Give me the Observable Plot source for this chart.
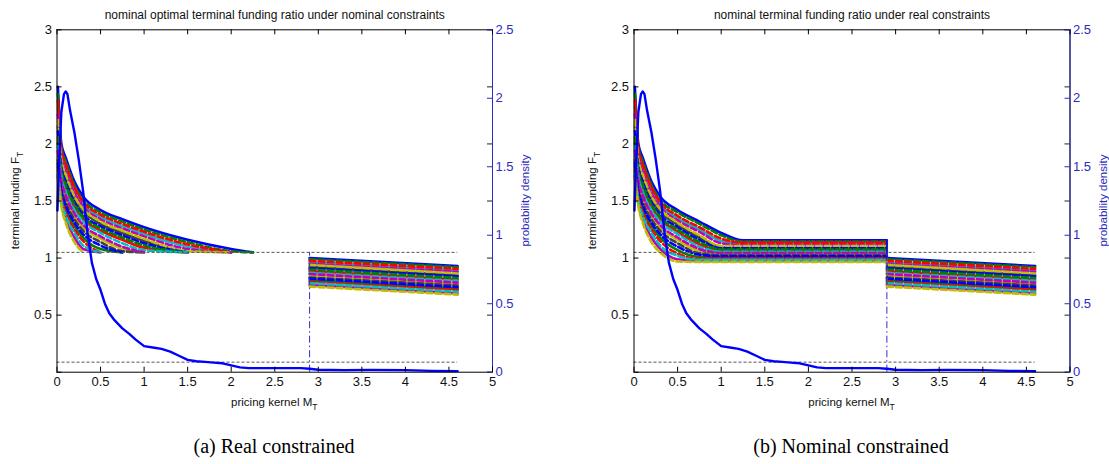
<!DOCTYPE html>
<html><head><meta charset="utf-8">
<script src="https://cdn.jsdelivr.net/npm/d3@7"></script>
<script src="https://cdn.jsdelivr.net/npm/@observablehq/plot@0.6"></script>
<style>
body{margin:0;background:#fff;width:1109px;height:464px;position:relative;overflow:hidden;font-family:"Liberation Sans",Arial,sans-serif}
.panel{position:absolute;top:0}
.cap{position:absolute;top:434px;font-family:"Liberation Serif","Times New Roman",serif;font-size:20px;transform:translateX(-50%);white-space:nowrap;line-height:24px}
</style></head><body>
<div id="pa" class="panel" style="left:0"></div>
<div id="pb" class="panel" style="left:555px"></div>
<div class="cap" style="left:274px">(a) Real constrained</div>
<div class="cap" style="left:851px">(b) Nominal constrained</div>
<script>
// ---------- data ----------
const titleA = "nominal optimal terminal funding ratio under nominal constraints";
const titleB = "nominal terminal funding ratio under real constraints";
const xLabel = ["pricing kernel M", "T"];
const yLabel = ["terminal funding F", "T"];
const y2Label = "probability density";

const xTicks = [0, 0.5, 1, 1.5, 2, 2.5, 3, 3.5, 4, 4.5, 5];
const yTicks = [0.5, 1, 1.5, 2, 2.5, 3];
const yTickMarks = [0, 0.5, 1, 1.5, 2, 2.5, 3];
const densityTicks = [0, 0.5, 1, 1.5, 2, 2.5];

const cutoffM = 2.9;       // kernel level where the constraint switches
const refEndM = 4.6;       // end of reference lines / tail
const floorLevel = 1.05;   // upper horizontal reference
const lowerLevel = 0.088;  // lower horizontal reference

// panel (a): funding ratio paths on kernel grid (end when hitting floor)
const kernelGridA = [0.01, 0.05, 0.1, 0.2, 0.3, 0.5, 0.75, 1.0, 1.5, 2.0, 2.25];
const realPaths = [
  [2.50,2.00,1.88,1.67,1.54,1.42,1.34,1.27,1.16,1.08,1.05],
  [2.44,1.97,1.85,1.64,1.51,1.40,1.32,1.25,1.14,1.06,1.05],
  [2.38,1.95,1.82,1.62,1.49,1.38,1.30,1.23,1.12,1.05],
  [2.32,1.92,1.79,1.59,1.47,1.36,1.28,1.21,1.10,1.05],
  [2.26,1.89,1.76,1.57,1.45,1.34,1.26,1.19,1.08,1.05],
  [2.21,1.86,1.73,1.54,1.43,1.32,1.24,1.17,1.06,1.05],
  [2.16,1.83,1.70,1.52,1.41,1.30,1.22,1.15,1.05],
  [2.11,1.80,1.67,1.49,1.38,1.28,1.20,1.13,1.05],
  [2.06,1.77,1.64,1.47,1.36,1.26,1.18,1.11,1.05],
  [2.02,1.74,1.61,1.44,1.34,1.24,1.16,1.09,1.05],
  [1.98,1.71,1.58,1.42,1.32,1.22,1.13,1.07,1.05],
  [1.94,1.68,1.55,1.39,1.29,1.19,1.10,1.05],
  [1.90,1.65,1.52,1.37,1.27,1.17,1.08,1.05],
  [1.86,1.62,1.49,1.34,1.24,1.14,1.06,1.05],
  [1.83,1.59,1.46,1.31,1.21,1.11,1.05],
  [1.80,1.56,1.43,1.28,1.18,1.08,1.05],
  [1.77,1.53,1.40,1.25,1.15,1.05],
  [1.74,1.50,1.37,1.22,1.11,1.05],
  [1.72,1.48,1.34,1.18,1.08,1.05],
  [1.70,1.45,1.31,1.14,1.05]
];

// panel (b): paths descend to their own plateau (last value), held until cutoff
const kernelGridB = [0.01, 0.05, 0.1, 0.2, 0.3, 0.5, 0.75, 1.0, 1.25];
const nominalPaths = [
  [2.50,2.00,1.88,1.67,1.54,1.42,1.32,1.22,1.155],
  [2.44,1.97,1.85,1.64,1.51,1.40,1.30,1.20,1.145],
  [2.38,1.95,1.82,1.62,1.49,1.37,1.27,1.17,1.135],
  [2.32,1.92,1.79,1.59,1.47,1.35,1.25,1.15,1.125],
  [2.26,1.89,1.76,1.57,1.45,1.33,1.23,1.13,1.115],
  [2.21,1.86,1.73,1.54,1.43,1.31,1.20,1.105],
  [2.16,1.83,1.70,1.52,1.41,1.29,1.18,1.095],
  [2.11,1.80,1.67,1.49,1.38,1.27,1.16,1.085],
  [2.06,1.77,1.64,1.47,1.36,1.25,1.14,1.075],
  [2.02,1.74,1.61,1.44,1.34,1.23,1.12,1.065],
  [1.98,1.71,1.58,1.42,1.32,1.21,1.10,1.055],
  [1.94,1.68,1.55,1.39,1.29,1.18,1.08,1.045],
  [1.90,1.65,1.52,1.37,1.27,1.16,1.06,1.035],
  [1.86,1.62,1.49,1.34,1.24,1.13,1.04,1.025],
  [1.83,1.59,1.46,1.31,1.21,1.10,1.03,1.015],
  [1.80,1.56,1.43,1.28,1.18,1.07,1.01,1.005],
  [1.77,1.53,1.40,1.25,1.15,1.04,0.995],
  [1.74,1.50,1.37,1.22,1.11,1.02,0.985],
  [1.72,1.48,1.34,1.18,1.08,0.99,0.975],
  [1.70,1.45,1.31,1.14,1.05,0.97,0.965]
];

// tail beyond the cutoff (same in both panels): value at cutoff and at end
const tailStart = [1.00,0.99,0.975,0.96,0.95,0.94,0.925,0.91,0.90,0.885,0.87,0.86,0.845,0.83,0.82,0.805,0.79,0.78,0.765,0.75];
const tailEnd   = [0.93,0.92,0.905,0.89,0.88,0.865,0.85,0.84,0.825,0.81,0.80,0.785,0.77,0.76,0.745,0.73,0.72,0.705,0.69,0.68];

// probability density of the pricing kernel (right axis)
const densityM = [0.005,0.025,0.05,0.08,0.1,0.12,0.15,0.2,0.25,0.3,0.35,0.4,0.45,0.5,0.55,0.6,0.66,0.75,0.83,0.9,1.0,1.1,1.2,1.3,1.4,1.5,1.6,1.7,1.8,1.9,2.0,2.1,2.2,2.5,2.8,2.9,3.0,3.3,3.6,4.0,4.3,4.6];
const densityP = [1.18,1.55,1.90,2.03,2.05,2.03,1.91,1.75,1.55,1.32,1.02,0.80,0.68,0.60,0.50,0.43,0.38,0.32,0.28,0.24,0.19,0.18,0.17,0.15,0.12,0.09,0.08,0.075,0.07,0.065,0.05,0.035,0.03,0.03,0.03,0.025,0.018,0.015,0.017,0.015,0.01,0.008];

const matlabColors = ["#0000ff","#008000","#ff0000","#00bfbf","#bf00bf","#bfbf00","#404040"];

// ---------- build ----------
const blueAxis = "#2b2bc0";
const yMax = 3, y2Max = 2.5, k2 = yMax / y2Max;
const H = 420, mT = 29.3, mB = 48.3;
const densityData = densityM.map((m, i) => ({m, p: densityP[i]}));
const fmt = d => String(Math.round(d * 10) / 10);
const isDark = k => k % 7 === 6;
// draw the dark (black) paths first so coloured ones sit on top
const byDarkFirst = (a, b) => (isDark(b.id) - isDark(a.id));

function styleOf(k) { return k % 3 !== 0; } // true = dashed
function pathRows(grid, rows, holdTo) {
  const out = [];
  rows.forEach((row, k) => {
    row.forEach((v, i) => out.push({id: k, m: grid[i], f: v, color: matlabColors[k % 7], dashed: styleOf(k)}));
    if (holdTo != null) out.push({id: k, m: holdTo, f: row[row.length - 1], color: matlabColors[k % 7], dashed: styleOf(k)});
  });
  return out.sort(byDarkFirst);
}
const tailRows = [];
tailStart.forEach((s, k) => {
  tailRows.push({id: k, m: cutoffM, f: s, color: matlabColors[k % 7], dashed: styleOf(k)});
  tailRows.push({id: k, m: refEndM, f: tailEnd[k], color: matlabColors[k % 7], dashed: styleOf(k)});
});
tailRows.sort(byDarkFirst);

function makePanel(el, {width, mL, mR, title, rows, connectors}) {
  const FW = width - mL - mR, FH = H - mT - mB;
  const lineOpts = {x: "m", y: "f", z: "id", stroke: "color", strokeWidth: 2.6};
  const marks = [
    Plot.line(rows.filter(d => !d.dashed), {...lineOpts, curve: "monotone-x"}),
    Plot.line(rows.filter(d => d.dashed), {...lineOpts, curve: "monotone-x", strokeDasharray: "6,3"}),
    Plot.line(tailRows.filter(d => !d.dashed), {...lineOpts}),
    Plot.line(tailRows.filter(d => d.dashed), {...lineOpts, strokeDasharray: "6,3"}),
  ];
  if (connectors) marks.push(Plot.link(connectors, {x1: "m", x2: "m", y1: "a", y2: "b", stroke: "color", strokeWidth: 1.5}));
  marks.push(
    Plot.ruleY([floorLevel, lowerLevel], {y: d => d, x1: 0, x2: refEndM, stroke: "#555", strokeWidth: 1, strokeDasharray: "3,2"}),
    Plot.ruleX([cutoffM], {x: d => d, y1: 0, y2: floorLevel, stroke: "#3030d0", strokeWidth: 1, strokeDasharray: "7,3,1.5,3"}),
    Plot.line(densityData, {x: "m", y: d => d.p * k2, stroke: "#0000ff", strokeWidth: 2.4}),
    Plot.frame({stroke: "black", strokeWidth: 1}),
    Plot.ruleX([5], {x: d => d, stroke: blueAxis, strokeWidth: 1}),
    Plot.tickX(xTicks, {x: d => d, insetTop: FH - 5, stroke: "black"}),
    Plot.tickX(xTicks, {x: d => d, insetBottom: FH - 5, stroke: "black"}),
    Plot.tickY(yTickMarks, {y: d => d, insetRight: FW - 5, stroke: "black"}),
    Plot.tickY(yTickMarks, {y: d => d, insetLeft: FW - 5, stroke: "#222"}),
    Plot.tickY(densityTicks, {y: d => d * k2, insetLeft: FW - 5, stroke: blueAxis}),
    Plot.axisX(xTicks, {tickSize: 0, tickPadding: 5, label: null, fontSize: 13, fill: "#111", tickFormat: fmt}),
    Plot.axisY(yTicks, {anchor: "left", tickSize: 0, tickPadding: 5, label: null, fontSize: 13, fill: "#111", tickFormat: fmt}),
    Plot.axisY(densityTicks.map(v => v * k2), {anchor: "right", tickSize: 0, tickPadding: 3, label: null, fontSize: 13, fill: blueAxis,
      tickFormat: d => fmt(d / k2)}),
    Plot.text([title], {text: d => d, frameAnchor: "top", dy: -14.3, fontSize: 12, fill: "#111", lineAnchor: "middle"})
  );
  const svg = Plot.plot({
    width, height: H, marginLeft: mL, marginRight: mR, marginTop: mT, marginBottom: mB,
    x: {domain: [0, 5], axis: null},
    y: {domain: [0, yMax], axis: null},
    color: {type: "identity"},
    style: {fontFamily: "'Liberation Sans', Arial, sans-serif", background: "white", overflow: "visible"},
    marks
  });
  svg.style.overflow = "visible";
  const s = d3.select(svg);
  const xl = s.append("text").attr("x", mL + FW / 2).attr("y", 406).attr("text-anchor", "middle")
    .attr("font-size", 11.5).attr("fill", "#111");
  xl.append("tspan").text(xLabel[0]);
  xl.append("tspan").attr("dy", 4).attr("font-size", 8.5).text(xLabel[1]);
  const yl = s.append("text").attr("transform", `translate(${mL - 38},${mT + FH / 2}) rotate(-90)`)
    .attr("text-anchor", "middle").attr("font-size", 11.5).attr("fill", "#111");
  yl.append("tspan").text(yLabel[0]);
  yl.append("tspan").attr("dy", 4).attr("font-size", 8.5).text(yLabel[1]);
  s.append("text").attr("transform", `translate(${mL + FW + 37},${mT + FH / 2}) rotate(-90)`)
    .attr("text-anchor", "middle").attr("font-size", 11.5).attr("fill", blueAxis).text(y2Label);
  el.appendChild(svg);
}

makePanel(document.getElementById("pa"), {
  width: 555, mL: 56.5, mR: 63, title: titleA,
  rows: pathRows(kernelGridA, realPaths, null)
});
const connectorsB = nominalPaths.map((row, k) => ({m: cutoffM, a: row[row.length - 1], b: tailStart[k], color: matlabColors[k % 7]})).reverse();
makePanel(document.getElementById("pb"), {
  width: 554, mL: 78.5, mR: 39.5, title: titleB,
  rows: pathRows(kernelGridB, nominalPaths, cutoffM),
  connectors: connectorsB
});
</script>
</body></html>
